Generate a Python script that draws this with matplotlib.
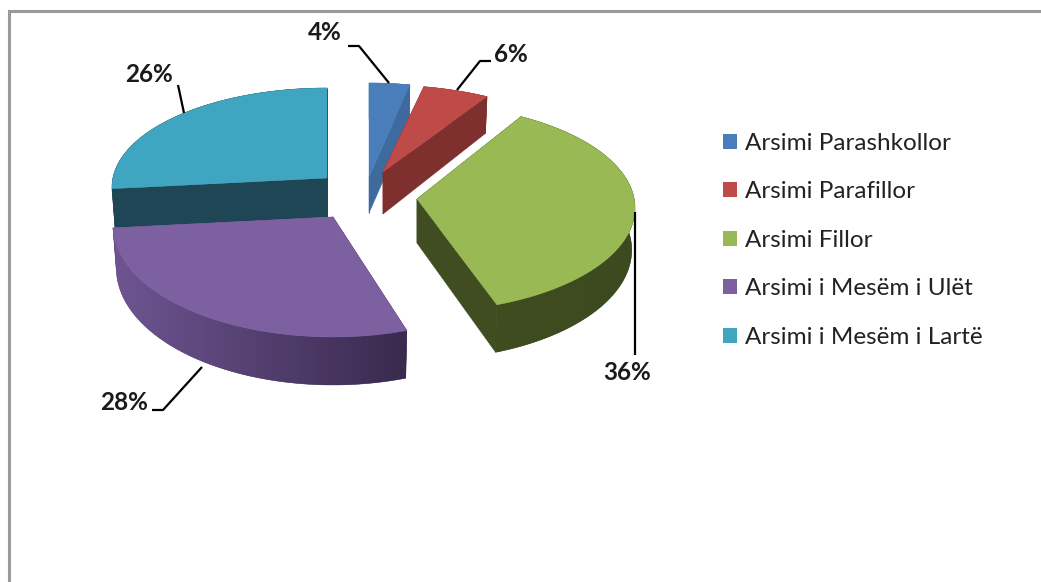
import numpy as np
import matplotlib
matplotlib.use('Agg')
import matplotlib.pyplot as plt
from matplotlib.colors import to_rgb
from matplotlib.patches import Patch, Polygon

categories = ['Arsimi Parashkollor', 'Arsimi Parafillor', 'Arsimi Fillor',
              'Arsimi i Mesëm i Ulët', 'Arsimi i Mesëm i Lartë']
shares = [4, 6, 36, 28, 26]

top_colors = ['#4A7EBB', '#BE4B48', '#98B954', '#7D60A0', '#3FA5C0']
side_light = ['#3E6A9E', '#7E302F', '#3F4D20', '#6E5592', '#1F4655']
side_dark = ['#3E6A9E', '#7E302F', '#3D4A1F', '#392A4E', '#1F4655']

# each slice is pulled out on its own: apex in pixels, radii, thickness at the apex
apex_x = [369, 383, 417, 333, 327]
apex_y = [177, 172, 199, 217, 178]
radius_x = [218, 218, 218, 220, 215]
radius_y = [103, 96, 104, 111, 99]
apex_depth = [36, 42, 44, 45, 39]
centre_drop = 9

# the 3D view squeezes the angles a bit compared to the true shares
share_marks = [0, 4, 10, 46, 74, 100]
view_marks = [0, 10.8, 28.5, 158.5, 269, 360]
# purple starts a touch later than green ends, slices are pulled apart
start_nudge = [0, 0, 0, 1.9, 0]


def rim(i, t):
    a = np.radians(t)
    x = apex_x[i] + radius_x[i] * np.sin(a)
    y = apex_y[i] + centre_drop - radius_y[i] * np.cos(a)
    return x, y


def drop(t):
    # perspective: front of the pie looks thicker than the back
    return 42 - 6 * np.cos(np.radians(t))


def draw_slice(ax, i, t0, t1, order):
    ts = np.linspace(t0, t1, 120)
    x, y = rim(i, ts)
    d = drop(ts)
    xb = apex_x[i] + (x - apex_x[i]) * 0.985

    # cut faces
    for k, col in ((0, side_dark[i]), (-1, side_light[i])):
        ax.fill([apex_x[i], x[k], xb[k], apex_x[i]],
                [apex_y[i], y[k], y[k] + d[k], apex_y[i] + apex_depth[i]],
                color=col, lw=0.4, zorder=order)

    # outer wall, shaded left to right
    wall_x = np.r_[x, xb[::-1]]
    wall_y = np.r_[y, (y + d)[::-1]]
    light = np.array(to_rgb(side_light[i]))
    dark = np.array(to_rgb(side_dark[i]))
    ax.fill(wall_x, wall_y, color=(light + dark) / 2, lw=0.3, zorder=order)
    ramp = np.linspace(0, 1, 256)[None, :, None]
    im = ax.imshow(light + (dark - light) * ramp, aspect='auto', zorder=order,
                   extent=(wall_x.min(), wall_x.max(), wall_y.max(), wall_y.min()))
    im.set_clip_path(Polygon(np.c_[wall_x, wall_y], transform=ax.transData))

    # top face
    ax.fill(np.r_[apex_x[i], x], np.r_[apex_y[i], y], color=top_colors[i], lw=0.3,
            zorder=order + 0.5)


fig = plt.figure(figsize=(10.41, 5.82), dpi=100)
ax = fig.add_axes([0, 0, 1, 1])
plt.rcParams['font.family'] = ['Lato', 'DejaVu Sans']

paint_order = [2, 3, 4, 5, 1]  # teal at back, purple in front
edges = np.interp(np.r_[0, np.cumsum(shares)], share_marks, view_marks)
for i in range(len(shares)):
    draw_slice(ax, i, edges[i] + start_nudge[i], edges[i + 1], paint_order[i])

ax.set_xlim(0, 1041)
ax.set_ylim(582, 0)
ax.axis('off')

# chart frame, only top and left survive in the picture
ax.plot([9, 9, 1041], [582, 11, 11], color='#9A9A9A', lw=2.2, zorder=0, solid_joinstyle='miter')

# data labels and leader lines
label_text = ['%d%%' % s for s in shares]
label_x = [325, 511, 627, 124, 149]
label_y = [32, 54, 373, 402, 75]
leaders = [([348, 359, 389], [46, 46, 83]),
           ([491, 480, 457], [61, 61, 90]),
           ([635, 635], [212, 355]),
           ([202, 163, 152], [367, 410, 410]),
           ([178, 184], [85, 113])]
for txt, lx, ly, (px, py) in zip(label_text, label_x, label_y, leaders):
    ax.text(lx, ly, txt, ha='center', va='center', fontsize=17.5, fontweight='bold',
            color='#1A1A1A', zorder=10)
    ax.plot(px, py, color='black', lw=1.6, zorder=9, solid_capstyle='butt')

handles = [Patch(facecolor=c, edgecolor='none') for c in top_colors]
ax.legend(handles, categories, loc='upper left', bbox_to_anchor=(723 / 1041, 1 - 133 / 582),
          frameon=False, fontsize=17.5, labelcolor='#222222', handlelength=0.57, handleheight=0.57,
          handletextpad=0.33, labelspacing=1.13, borderpad=0, borderaxespad=0)

fig.savefig('out.png', dpi=100)
